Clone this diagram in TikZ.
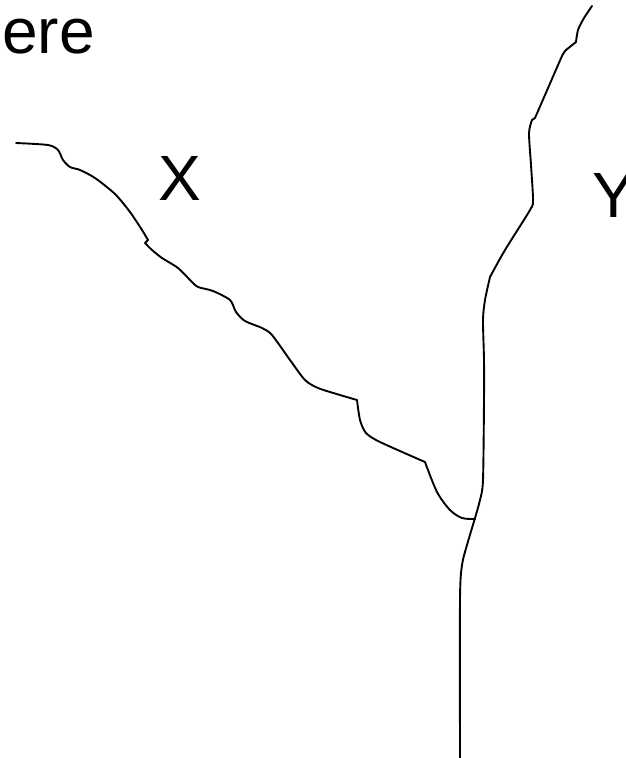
\documentclass[tikz,border=0pt]{standalone}
\usepackage{fontspec}
\setmainfont{Liberation Sans}
\begin{document}
\begin{tikzpicture}[x=1pt,y=-1pt,
  lbl/.style={inner sep=0pt,font=\fontsize{64}{70}\selectfont},
  crack/.style={line width=1.9pt,line join=round,line cap=round}]
\useasboundingbox (0,0) rectangle (625,758);
\begin{scope}
\clip (0,0) rectangle (625,758);
\node[lbl,anchor=base west] (here) at (2,53) {ere};
\node[lbl,anchor=base west] (xlab) at (158,200) {X};
\node[lbl,anchor=base west] (ylab) at (592,217) {Y};
\draw[crack] plot[smooth,tension=0.45] coordinates {
 (16,143) (48,145) (58,150) (63,160) (70,167) (80,170) (95,178) (115,194)
 (130,212) (142,230) (148,240)};
\draw[crack] (148,240) -- (145,243);
\draw[crack] plot[smooth,tension=0.45] coordinates {
 (145,243) (152,250) (162,258) (178,268) (192,282) (198,287) (213,291) (230,300)
 (236,312) (245,321) (262,328) (272,335) (290,360) (305,380) (318,388) (340,395)
 (357,400)};
\draw[crack] plot[smooth,tension=0.45] coordinates {
 (357,400) (360,420) (366,433) (380,442) (425,462)};
\draw[crack] plot[smooth,tension=0.5] coordinates {
 (425,462) (437,492) (450,510) (462,518) (475,519)};
\draw[crack] plot[smooth,tension=0.45] coordinates {
 (592,6) (584,18) (578,30) (576,42)};
\draw[crack] (576,42) -- (566,50);
\draw[crack] plot[smooth,tension=0.3] coordinates {
 (566,50) (562,56) (545,95) (535,118)};
\draw[crack] (535,118) -- (532,120);
\draw[crack] plot[smooth,tension=0.45] coordinates {
 (532,120) (529,133) (531,165) (533,200) (530,210) (505,250) (490,277)};
\draw[crack] plot[smooth,tension=0.45] coordinates {
 (490,277) (485,300) (483,320) (484,360) (484,400) (483,480) (480,500)
 (475,518) (467,545) (462,565) (460,600) (460,758)};
\end{scope}
\end{tikzpicture}
\end{document}
